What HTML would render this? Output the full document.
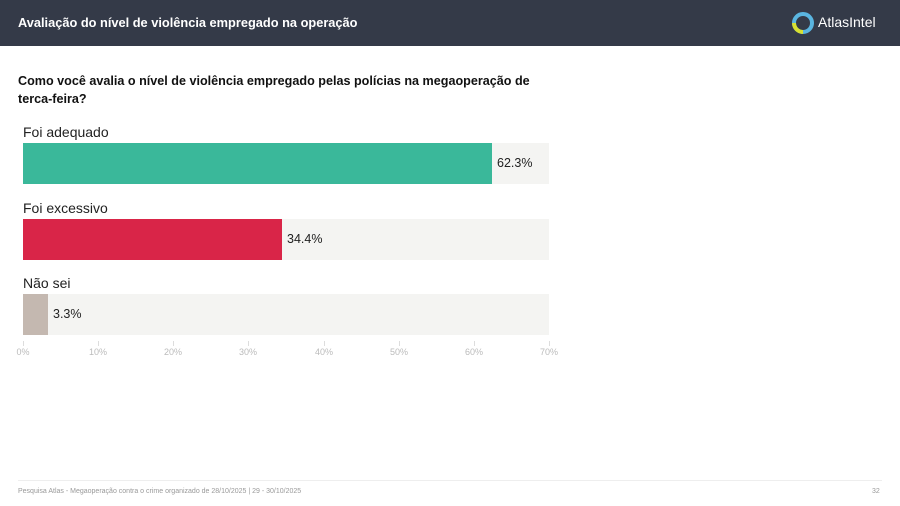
<!DOCTYPE html>
<html><head><meta charset="utf-8"><style>
body{margin:0;width:900px;height:506px;background:#fff;font-family:"Liberation Sans",sans-serif;position:relative;overflow:hidden}
.a{position:absolute;white-space:nowrap}
.hdr{left:0;top:0;width:900px;height:46px;background:#343a48}
.bg{background:#f4f4f2;left:23px;width:526px;height:41px}
.lab{font-size:14px;color:#222}
.val{font-size:12.5px;color:#222}
.t{font-size:9px;color:#bbb;top:347px;transform:translateX(-50%)}
.tk{width:1px;height:5px;background:#ddd;top:341px}
</style></head><body>
<div class="a hdr"></div>
<div class="a" style="left:18px;top:15px;font-size:12.8px;color:#fff;font-weight:bold">Avaliação do nível de violência empregado na operação</div>
<svg class="a" style="left:792px;top:12px" width="22" height="22" viewBox="0 0 22 22"><circle cx="11" cy="11" r="9" fill="none" stroke="#5ab5e0" stroke-width="4"/><path d="M2 11 A9 9 0 0 0 11 20" fill="none" stroke="#d8e030" stroke-width="4"/><path d="M11 5 L17 11 L11 17 L5 11Z" fill="#343a48"/></svg>
<div class="a" style="left:818px;top:14px;font-size:14px;color:#fff">AtlasIntel</div>
<div class="a" style="left:18px;top:72px;font-size:12.6px;font-weight:bold;color:#111;line-height:18px">Como você avalia o nível de violência empregado pelas polícias na megaoperação de<br>terca-feira?</div>
<div class="a lab" style="left:23px;top:124px">Foi adequado</div>
<div class="a bg" style="top:143px"></div>
<div class="a" style="left:23px;top:143px;width:469px;height:41px;background:#3ab89a"></div>
<div class="a val" style="left:497px;top:156px">62.3%</div>
<div class="a lab" style="left:23px;top:200px">Foi excessivo</div>
<div class="a bg" style="top:219px"></div>
<div class="a" style="left:23px;top:219px;width:259px;height:41px;background:#d92548"></div>
<div class="a val" style="left:287px;top:232px">34.4%</div>
<div class="a lab" style="left:23px;top:275px">Não sei</div>
<div class="a bg" style="top:294px"></div>
<div class="a" style="left:23px;top:294px;width:25px;height:41px;background:#c4b8b0"></div>
<div class="a val" style="left:53px;top:307px">3.3%</div>
<div class="a tk" style="left:23px"></div><div class="a t" style="left:23px">0%</div>
<div class="a tk" style="left:98px"></div><div class="a t" style="left:98px">10%</div>
<div class="a tk" style="left:173px"></div><div class="a t" style="left:173px">20%</div>
<div class="a tk" style="left:248px"></div><div class="a t" style="left:248px">30%</div>
<div class="a tk" style="left:324px"></div><div class="a t" style="left:324px">40%</div>
<div class="a tk" style="left:399px"></div><div class="a t" style="left:399px">50%</div>
<div class="a tk" style="left:474px"></div><div class="a t" style="left:474px">60%</div>
<div class="a tk" style="left:549px"></div><div class="a t" style="left:549px">70%</div>
<div class="a" style="left:18px;top:480px;width:864px;height:1px;background:#eee"></div>
<div class="a" style="left:18px;top:488px;font-size:7px;color:#999">Pesquisa Atlas - Megaoperação contra o crime organizado de 28/10/2025 | 29 - 30/10/2025</div>
<div class="a" style="left:872px;top:488px;font-size:7px;color:#999">32</div>
</body></html>
